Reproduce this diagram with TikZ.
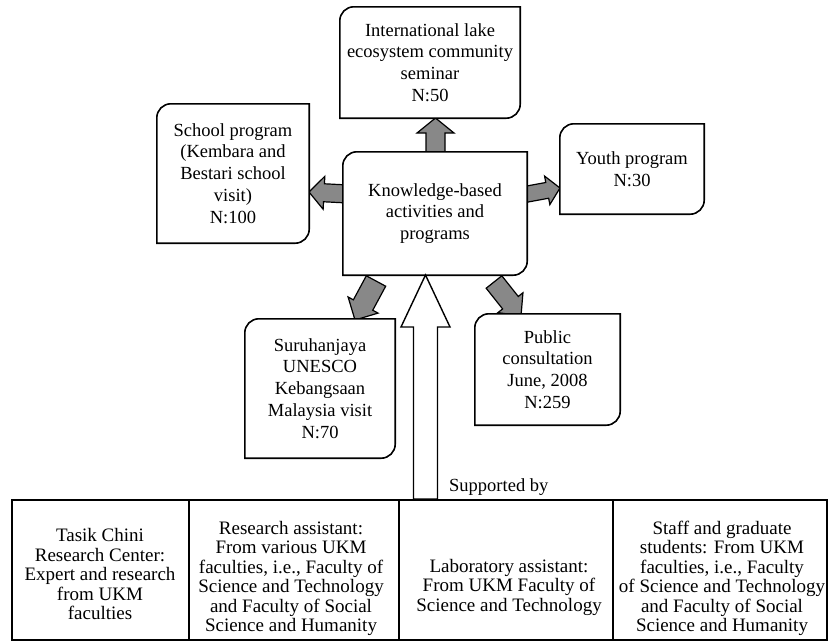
\documentclass[tikz,border=0pt]{standalone}
\usepackage{fontspec}
\setmainfont{Liberation Serif}
\usetikzlibrary{calc,backgrounds}
\definecolor{arrgray}{RGB}{136,136,136}
\def\boxrad{14pt}
\newcommand\roundout[1]{%
  \draw[boxline] ([yshift=-\boxrad]#1.north west) arc[start angle=180,end angle=90,radius=\boxrad]
    -- (#1.north east) -- ([yshift=\boxrad]#1.south east)
    arc[start angle=0,end angle=-90,radius=\boxrad] -- (#1.south west) -- cycle;}
\newcommand\blockarr[6]{% start, end, half shaft, half head, head length, style
  \coordinate (ba-c) at ($(#2)!#5!(#1)$);
  \draw[#6] ($(#1)!#3!90:(#2)$) -- ($(ba-c)!#3!90:(#2)$) -- ($(ba-c)!#4!90:(#2)$) -- (#2)
    -- ($(ba-c)!#4!-90:(#2)$) -- ($(ba-c)!#3!-90:(#2)$) -- ($(#1)!#3!-90:(#2)$) -- cycle;}
\tikzset{
  bx/.style={inner sep=0pt, align=center, font=\fontsize{18.5}{21.8}\selectfont},
  boxline/.style={draw=black, line width=1.6pt, fill=white},
  garrow/.style={draw=black, line width=1.2pt, fill=arrgray, line join=miter},
  warrow/.style={draw=black, line width=1.4pt, fill=white, line join=miter},
  cell/.style={draw=black, line width=1.8pt, inner sep=0pt, minimum height=140},
  tbl/.style={inner sep=0pt, align=center, font=\fontsize{19}{19.5}\selectfont},
}
\begin{document}
\begin{tikzpicture}[x=1pt,y=-1pt]
\useasboundingbox (0,0) rectangle (828,641);
% boxes
\node[bx, minimum width=180, minimum height=111] (seminar) at (430,62.5)
  {International lake\\ecosystem community\\seminar\\N:50};
\node[bx, minimum width=152, minimum height=139] (school) at (233,173.5)
  {School program\\(Kembara and\\Bestari school\\visit)\\N:100};
\node[bx, minimum width=184, minimum height=123] (kba) at (435,213.5)
  {Knowledge-based\\activities and\\programs};
\node[bx, minimum width=144, minimum height=90] (youth) at (632,169)
  {Youth program\\N:30};
\node[bx, minimum width=150, minimum height=139] (suru) at (320,388.5)
  {Suruhanjaya\\UNESCO\\Kebangsaan\\Malaysia visit\\N:70};
\node[bx, minimum width=145, minimum height=111] (public) at (547.5,369.5)
  {Public\\consultation\\June, 2008\\N:259};
% arrow end points
\coordinate (a1s) at (435.5,156); \coordinate (a1e) at (435.5,118);
\coordinate (a2s) at (348,194);   \coordinate (a2e) at (309,192);
\coordinate (a3s) at (522,195);   \coordinate (a3e) at (560,188);
\coordinate (a4s) at (376,281);   \coordinate (a4e) at (355,320);
\coordinate (a5s) at (494,282);   \coordinate (a5e) at (521,316);
\coordinate (a6s) at (425.5,499); \coordinate (a6e) at (425.5,275);
\begin{scope}[on background layer]
  \blockarr{a1s}{a1e}{9.5pt}{18.5pt}{15pt}{garrow}
  \blockarr{a2s}{a2e}{9pt}{16.5pt}{15pt}{garrow}
  \blockarr{a3s}{a3e}{8pt}{14.5pt}{13pt}{garrow}
  \blockarr{a4s}{a4e}{11pt}{17pt}{17pt}{garrow}
  \blockarr{a5s}{a5e}{10pt}{16pt}{17pt}{garrow}
  \foreach \n in {seminar,school,kba,youth,suru,public} {\roundout{\n}}
\end{scope}
\blockarr{a6s}{a6e}{12pt}{24.5pt}{52pt}{warrow}
\node[bx, anchor=west] (supp) at (449,487) {Supported by};
% table
\node[cell, minimum width=177] (c1) at (100.5,570) {};
\node[cell, minimum width=210] (c2) at (294,570) {};
\node[cell, minimum width=214] (c3) at (506,570) {};
\node[cell, minimum width=214] (c4) at (720,570) {};
\node[tbl] (t1) at (100,574) {Tasik Chini\\Research Center:\\Expert and research\\from UKM\\faculties};
\node[tbl] (t2) at (291,578.5) {Research assistant:\\From various UKM\\faculties, i.e., Faculty of\\Science and Technology\\and Faculty of Social\\Science and Humanity};
\node[tbl] (t3) at (509,587) {Laboratory assistant:\\From UKM Faculty of\\Science and Technology};
\node[tbl] (t4) at (722,578.5) {Staff and graduate\\students: From UKM\\faculties, i.e., Faculty\\of Science and Technology\\and Faculty of Social\\Science and Humanity};
\end{tikzpicture}
\end{document}
